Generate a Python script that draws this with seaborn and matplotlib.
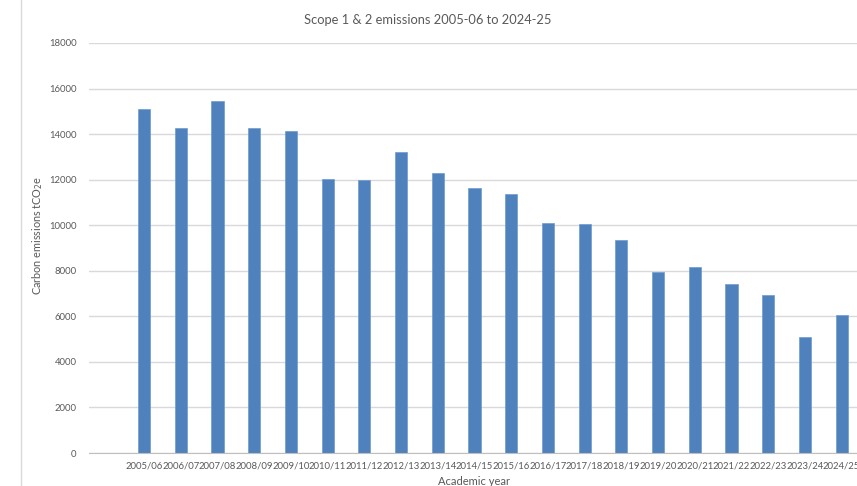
import matplotlib
matplotlib.use("Agg")
import matplotlib.pyplot as plt
from matplotlib.lines import Line2D
import seaborn as sns
import pandas as pd

# Academic years and Scope 1 & 2 emissions (tCO2e)
years = ["2005/06", "2006/07", "2007/08", "2008/09", "2009/10", "2010/11",
         "2011/12", "2012/13", "2013/14", "2014/15", "2015/16", "2016/17",
         "2017/18", "2018/19", "2019/20", "2020/21", "2021/22", "2022/23",
         "2023/24", "2024/25"]
emissions = [15100, 14250, 15450, 14270, 14140, 12030, 11970, 13200, 12280,
             11630, 11370, 10110, 10050, 9340, 7950, 8180, 7410, 6940,
             5090, 6070]
y_ticks = list(range(0, 18001, 2000))

df = pd.DataFrame({"year": years, "emissions": emissions})

sns.set_theme(style="white")
plt.rcParams["font.family"] = ["Lato", "DejaVu Sans"]

W, H = 857, 486
fig = plt.figure(figsize=(W / 100, H / 100), dpi=100)
ax = fig.add_axes([89 / W, 33 / H, (860 - 89) / W, (453 - 43) / H])

sns.barplot(data=df, x="year", y="emissions", color="#4F81BD", width=0.33,
            saturation=1, edgecolor="#6E9AD0", linewidth=0.5, ax=ax)

# one empty category slot ahead of the first year
ax.set_xlim(-1.5, len(years) - 0.5)
ax.set_ylim(0, 18000)
ax.set_yticks(y_ticks)
ax.set_yticklabels([str(t) for t in y_ticks])
ax.yaxis.grid(True, color="#D9D9D9", linewidth=1)
ax.set_axisbelow(True)

# tick marks sit between categories, labels centred under bars
ax.set_xticks([i - 0.5 for i in range(-1, len(years) + 1)], minor=True)
ax.tick_params(axis="x", which="minor", length=4, color="#BFBFBF", width=0.8,
               direction="out")
ax.tick_params(axis="x", which="major", length=0, pad=6, labelsize=6.8,
               labelcolor="#595959")
ax.tick_params(axis="y", length=0, pad=9, labelsize=6.8, labelcolor="#595959")

for s in ["top", "right", "left"]:
    ax.spines[s].set_visible(False)
ax.spines["bottom"].set_color("#BFBFBF")
ax.spines["bottom"].set_linewidth(0.8)

ax.set_xlabel("Academic year", fontsize=8, color="#595959", labelpad=4)
ax.set_ylabel("Carbon emissions tCO$_2$e", fontsize=7.8, color="#595959")
ax.yaxis.set_label_coords(-0.057, 0.53)

fig.text(428 / W, 1 - 20 / H, "Scope 1 & 2 emissions 2005-06 to 2024-25",
         ha="center", va="center", fontsize=9.3, color="#595959")

# chart frame edge on the left
fig.add_artist(Line2D([21 / W, 21 / W], [0, 1], transform=fig.transFigure,
                      color="#D9D9D9", linewidth=1))

fig.savefig("out.png", dpi=100, facecolor="white")
